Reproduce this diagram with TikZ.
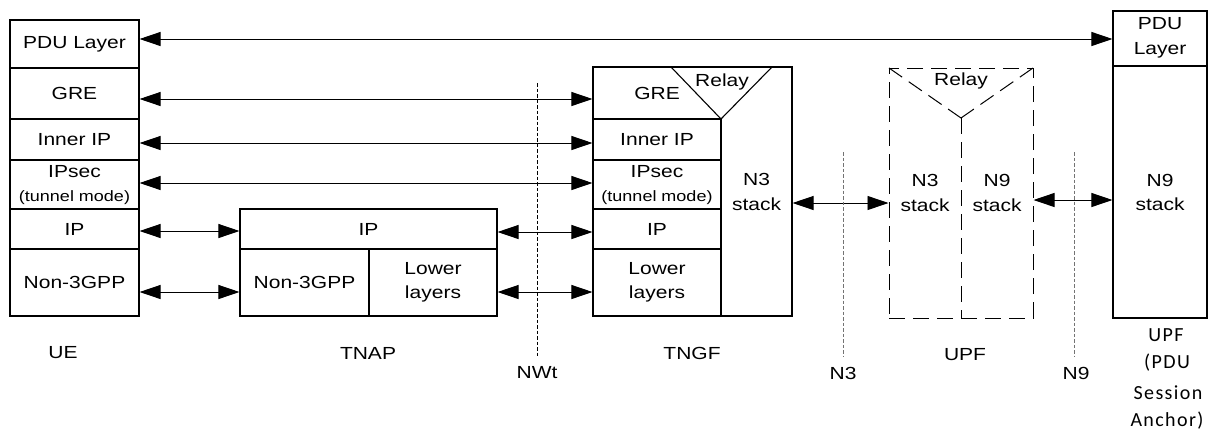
\documentclass[tikz,border=0pt]{standalone}
\usepackage{fontspec}
\setmainfont{Liberation Sans}[FakeStretch=1.2]
\newfontfamily\calfont{Carlito}[LetterSpace=7]
\usetikzlibrary{arrows.meta}
\begin{document}
\begin{tikzpicture}[x=1pt,y=-1pt,
  box/.style={draw, line width=1.1pt, inner sep=0pt, align=center, font=\fontsize{17.5}{24}\selectfont},
  dbox/.style={draw, line width=1pt, inner sep=0pt, dash pattern=on 16pt off 8pt},
  txt/.style={inner sep=0pt, align=center, font=\fontsize{17.5}{25}\selectfont},
  smalltxt/.style={inner sep=0pt, align=center, font=\fontsize{15}{18}\selectfont},
  caltxt/.style={inner sep=0pt, align=center, font=\calfont\fontsize{20}{28}\selectfont},
  sep/.style={line width=1.1pt},
  arr/.style={line width=0.9pt, {Triangle[length=21pt,width=14pt]}-{Triangle[length=21pt,width=14pt]}},
  refline/.style={line width=0.9pt, dash pattern=on 3.5pt off 2pt},
  grayline/.style={refline, draw=black!55}]
\useasboundingbox (0,0) rectangle (1212,432);

% UE stack
\node[box, minimum width=129pt, minimum height=48pt] (ue-pdu) at (74.5,44) {PDU Layer};
\node[box, minimum width=129pt, minimum height=51pt] (ue-gre) at (74.5,93.5) {GRE};
\node[box, minimum width=129pt, minimum height=41pt] (ue-iip) at (74.5,139.5) {Inner IP};
\node[box, minimum width=129pt, minimum height=49pt] (ue-ipsec) at (74.5,184.5) {};
\node[txt] (ue-ipsec-a) at (74.5,172) {IPsec};
\node[smalltxt] (ue-ipsec-b) at (74.5,198) {(tunnel mode)};
\node[box, minimum width=129pt, minimum height=40pt] (ue-ip) at (74.5,229) {IP};
\node[box, minimum width=129pt, minimum height=67pt] (ue-n3gpp) at (74.5,282.5) {Non-3GPP};

% TNAP
\node[box, minimum width=257pt, minimum height=40pt] (tnap-ip) at (368.5,229) {IP};
\node[box, minimum width=129pt, minimum height=67pt] (tnap-n3gpp) at (304.5,282.5) {Non-3GPP};
\node[box, minimum width=128pt, minimum height=67pt] (tnap-low) at (433,282.5) {Lower\\layers};

% TNGF
\node[box, minimum width=199pt, minimum height=249pt] (tngf) at (692.5,191.5) {};
\node[box, minimum width=128pt, minimum height=41pt] (tngf-iip) at (657,139.5) {Inner IP};
\node[box, minimum width=128pt, minimum height=49pt] (tngf-ipsec) at (657,184.5) {};
\node[txt] (tngf-ipsec-a) at (657,172) {IPsec};
\node[smalltxt] (tngf-ipsec-b) at (657,198) {(tunnel mode)};
\node[box, minimum width=128pt, minimum height=40pt] (tngf-ip) at (657,229) {IP};
\node[box, minimum width=128pt, minimum height=67pt] (tngf-low) at (657,282.5) {Lower\\layers};
\node[txt] (tngf-gre) at (657,93) {GRE};
\coordinate (tngf-r1) at (671,67);
\coordinate (tngf-rapex) at (721,119);
\coordinate (tngf-r2) at (772,67);
\draw[sep] (tngf-r1) -- (tngf-rapex) -- (tngf-r2);
\node[txt] (tngf-relay) at (722,82) {Relay};
\node[txt] (tngf-n3) at (756.5,191.5) {N3\\stack};

% UPF (intermediate)
\node[dbox, minimum width=144pt, minimum height=250pt] (upf) at (961,193) {};
\coordinate (upf-r1) at (889,68);
\coordinate (upf-rapex) at (961,118);
\coordinate (upf-r2) at (1033,68);
\coordinate (upf-bot) at (961,318);
\draw[line width=1pt, dash pattern=on 16pt off 8pt] (upf-r1) -- (upf-rapex);
\draw[line width=1pt, dash pattern=on 16pt off 8pt] (upf-r2) -- (upf-rapex);
\draw[line width=1pt, dash pattern=on 16pt off 8pt] (upf-rapex) -- (upf-bot);
\node[txt] (upf-relay) at (961,81) {Relay};
\node[txt] (upf-n3) at (925,192.5) {N3\\stack};
\node[txt] (upf-n9) at (997,192.5) {N9\\stack};

% UPF PSA
\node[box, minimum width=94pt, minimum height=55pt] (psa-pdu) at (1160,38.5) {};
\node[txt] (psa-pdu-t) at (1160,37.5) {PDU\\Layer};
\node[box, minimum width=94pt, minimum height=252pt] (psa-n9) at (1160,192) {N9\\stack};

% Arrows
\draw[arr] ([yshift=5pt]ue-pdu.east) -- ([yshift=5pt]ue-pdu.east -| psa-pdu.west);
\draw[arr] ([yshift=-5.5pt]ue-gre.east) -- ([yshift=-5.5pt]ue-gre.east -| tngf.west);
\draw[arr] ([yshift=-3.5pt]ue-iip.east) -- ([yshift=-3.5pt]ue-iip.east -| tngf-iip.west);
\draw[arr] ([yshift=1.5pt]ue-ipsec.east) -- ([yshift=1.5pt]ue-ipsec.east -| tngf-ipsec.west);
\draw[arr] ([yshift=-2pt]ue-ip.east) -- ([yshift=-2pt]ue-ip.east -| tnap-ip.west);
\draw[arr] ([yshift=-9.5pt]ue-n3gpp.east) -- ([yshift=-9.5pt]ue-n3gpp.east -| tnap-n3gpp.west);
\draw[arr] ([yshift=-3pt]tnap-ip.east) -- ([yshift=-3pt]tnap-ip.east -| tngf-ip.west);
\draw[arr] ([yshift=-9.5pt]tnap-low.east) -- ([yshift=-9.5pt]tnap-low.east -| tngf-low.west);
\draw[arr] ([yshift=-11.5pt]tngf.east) -- ([yshift=-11.5pt]tngf.east -| upf.west);
\draw[arr] ([yshift=-7pt]upf.east) -- ([yshift=-7pt]upf.east -| psa-n9.west);

% Reference points
\coordinate (nwt-top) at (537,83);
\coordinate (nwt-bot) at (537,357);
\coordinate (n3-top) at (843,152);
\coordinate (n3-bot) at (843,357);
\coordinate (n9-top) at (1074,152);
\coordinate (n9-bot) at (1074,357);
\draw[refline] (nwt-top) -- (nwt-bot);
\draw[grayline] (n3-top) -- (n3-bot);
\draw[grayline] (n9-top) -- (n9-bot);

% Labels
\node[txt] (lbl-ue) at (63,353) {UE};
\node[txt] (lbl-tnap) at (368,353) {TNAP};
\node[txt] (lbl-tngf) at (692,353) {TNGF};
\node[txt] (lbl-upf) at (965,355) {UPF};
\node[txt] (lbl-nwt) at (537,373) {NWt};
\node[txt] (lbl-n3) at (843,373) {N3};
\node[txt] (lbl-n9) at (1076,373) {N9};
\node[caltxt] (lbl-psa-1) at (1166,335) {UPF};
\node[caltxt] (lbl-psa-2) at (1167,363) {(PDU};
\node[caltxt] (lbl-psa-3) at (1168,393) {Session};
\node[caltxt] (lbl-psa-4) at (1167,421) {Anchor)};
\end{tikzpicture}
\end{document}
